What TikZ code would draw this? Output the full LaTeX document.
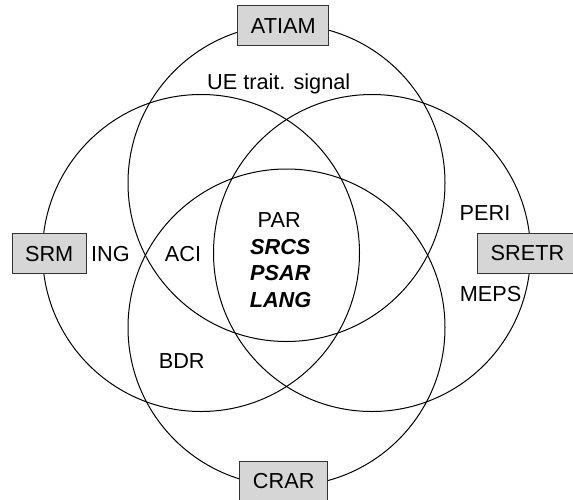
\documentclass[tikz,border=0pt]{standalone}
\usepackage{fontspec}
\setmainfont{Liberation Sans}
\definecolor{boxgray}{RGB}{214,214,214}
\begin{document}
\begin{tikzpicture}[x=1pt,y=-1pt,
  ring/.style={draw=black,line width=1pt,circle,minimum size=317pt,inner sep=0pt,outer sep=0pt},
  lbl/.style={font=\fontsize{21.7}{26.7}\selectfont,inner sep=0pt,anchor=base},
  blbl/.style={lbl,font=\fontsize{21.7}{26.7}\selectfont\bfseries\itshape},
  tagbox/.style={draw=black!80,line width=1pt,fill=boxgray,font=\fontsize{21.7}{26.7}\selectfont,
    text height=15.5pt,text depth=0pt,minimum height=40pt,inner xsep=13pt,inner ysep=0pt}]
\useasboundingbox (0,0) rectangle (573,499);
% circles
\node[ring] (cTop) at (286.5,183) {};
\node[ring] (cBot) at (286.5,327.5) {};
\node[ring] (cLeft) at (201,253) {};
\node[ring] (cRight) at (372,253) {};
% labels
\node[lbl] (ue) at (278.7,89.5) {UE trait. signal};
\node[lbl] (peri) at (485,220.5) {PERI};
\node[lbl] (meps) at (490.5,301.5) {MEPS};
\node[lbl] (ing) at (110.5,261.2) {ING};
\node[lbl] (aci) at (183,261.2) {ACI};
\node[lbl] (bdr) at (181.7,368.3) {BDR};
\node[lbl] (par) at (279.2,227.7) {PAR};
\node[blbl] (srcs) at (280.3,254.3) {SRCS};
\node[blbl] (psar) at (280.3,280.8) {PSAR};
\node[blbl] (lang) at (280.5,307.5) {LANG};
% tag boxes
\node[tagbox] (atiam) at (283.3,25.8) {ATIAM};
\node[tagbox] (srm) at (49.2,253.3) {SRM};
\node[tagbox] (sretr) at (527.5,253) {SRETR};
\node[tagbox] (crar) at (283.7,481) {CRAR};
\end{tikzpicture}
\end{document}
